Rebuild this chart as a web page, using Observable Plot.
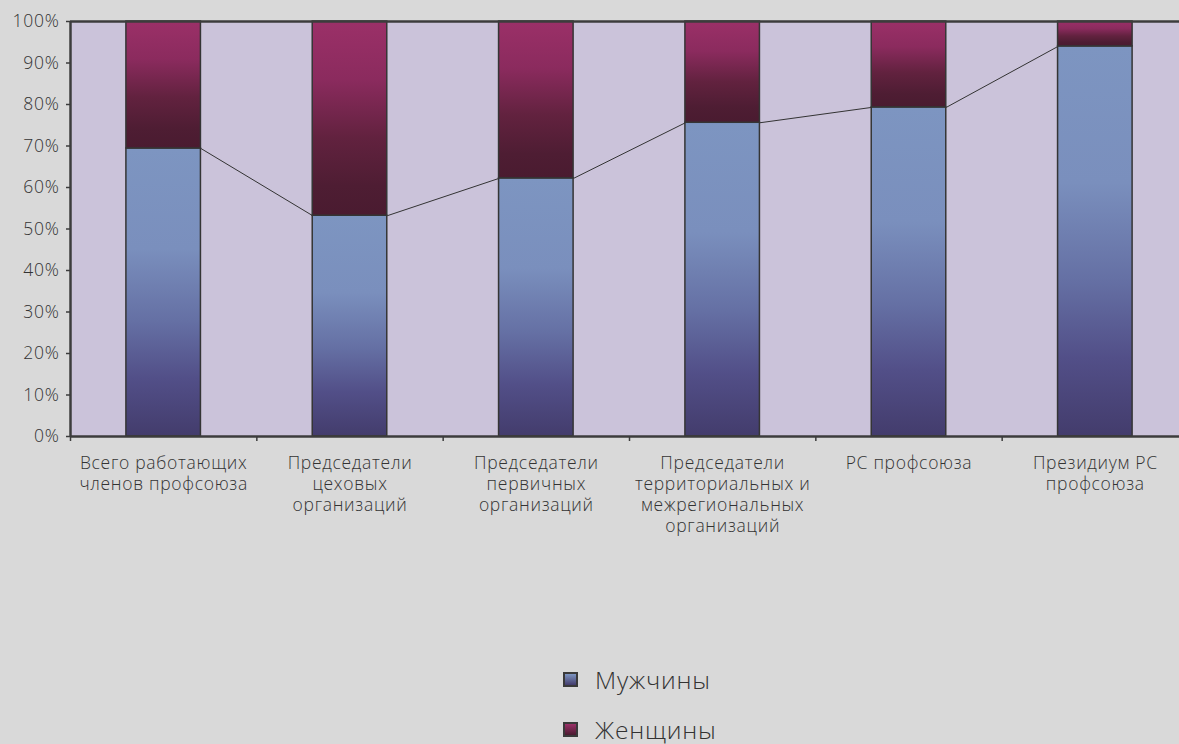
<!DOCTYPE html>
<html>
<head>
<meta charset="utf-8">
<script src="https://cdn.jsdelivr.net/npm/d3@7"></script>
<script src="https://cdn.jsdelivr.net/npm/@observablehq/plot@0.6"></script>
<style>
  html, body { margin: 0; padding: 0; background: #d9d9d9; overflow: hidden; }
  body { width: 1179px; height: 744px; font-family: "Open Sans", sans-serif; }
  #chart svg { max-width: none !important; display: block; }
  #chart svg text { letter-spacing: 0.7px; }
  #legend { margin-top: 94px; margin-left: 563px; color: #333; font-size: 24.5px; font-weight: 300; letter-spacing: 0.8px; }
  .item { height: 50px; display: flex; align-items: center; }
  .sw { width: 11px; height: 11px; border: 2px solid #3a3a3a; margin-right: 17px; }
</style>
</head>
<body>
<div id="chart"></div>
<div id="legend"></div>
<script>
const categories = [
  "Всего работающих\nчленов профсоюза",
  "Председатели\nцеховых\nорганизаций",
  "Председатели\nпервичных\nорганизаций",
  "Председатели\nтерриториальных и\nмежрегиональных\nорганизаций",
  "РС профсоюза",
  "Президиум РС\nпрофсоюза"
];
const men = [69.4, 53.2, 62.2, 75.6, 79.3, 94.0];
const women = [30.6, 46.8, 37.8, 24.4, 20.7, 6.0];
const yTicks = [0, 10, 20, 30, 40, 50, 60, 70, 80, 90, 100];
const seriesNames = ["Мужчины", "Женщины"];

const half = 0.2; // half bar width in category units
const idx = categories.map((_, i) => i);
const rows = idx.map(i => ({i, men: men[i], women: women[i]}));
const links = idx.slice(0, -1).map(i => ({a: i, b: i + 1, ya: men[i], yb: men[i + 1]}));
const boundaries = idx.map(i => i - 0.5);

const axisColor = "#3c3c3c";

const chart = Plot.plot({
  width: 1188,
  height: 560,
  marginLeft: 70,
  marginRight: 0,
  marginTop: 21,
  marginBottom: 124,
  style: {background: "transparent", fontFamily: "Open Sans", fontSize: "17px", fontWeight: 300, color: "#333"},
  x: {type: "linear", domain: [-0.5, categories.length - 0.5]},
  y: {domain: [0, 100]},
  marks: [
    Plot.frame({fill: "#cbc3da", stroke: null}),
    Plot.rectY(rows, {x1: d => d.i - half, x2: d => d.i + half, y1: 0, y2: "men", fill: "url(#gradMen)", stroke: "#353535", strokeWidth: 1.5}),
    Plot.rectY(rows, {x1: d => d.i - half, x2: d => d.i + half, y1: "men", y2: d => d.men + d.women, fill: "url(#gradWomen)", stroke: "#353535", strokeWidth: 1.5}),
    Plot.link(links, {x1: d => d.a + half, x2: d => d.b - half, y1: "ya", y2: "yb", stroke: "#333", strokeWidth: 1}),
    Plot.ruleY([0], {stroke: axisColor, strokeWidth: 2.5}),
    Plot.ruleY([100], {stroke: axisColor, strokeWidth: 2.5}),
    Plot.ruleX([-0.5], {stroke: axisColor, strokeWidth: 2.5}),
    Plot.axisY({ticks: yTicks, tickFormat: d => d + "%", tickSize: 4, tickPadding: 7, fontSize: 17.5, stroke: axisColor, strokeWidth: 1.5}),
    Plot.axisX({ticks: boundaries, tickFormat: () => "", tickSize: 5, stroke: axisColor, strokeWidth: 1.5}),
    Plot.text(categories, {x: (d, i) => i, y: 0, dy: 18, lineAnchor: "top", lineHeight: 1.2, fontSize: 17.5, fill: "#333"})
  ]
});

const svg = d3.select(chart);
const defs = svg.insert("defs", ":first-child");
function grad(id, stops) {
  const g = defs.append("linearGradient").attr("id", id).attr("x1", 0).attr("y1", 0).attr("x2", 0).attr("y2", 1);
  stops.forEach(([o, c]) => g.append("stop").attr("offset", o).attr("stop-color", c));
}
grad("gradMen", [[0, "#7d95c1"], [0.35, "#7a8fbd"], [0.6, "#6570a4"], [0.8, "#524f88"], [1, "#433c6c"]]);
grad("gradWomen", [[0, "#9b3068"], [0.3, "#8b2b5e"], [0.6, "#62223f"], [0.85, "#4e1d33"], [1, "#4a1b30"]]);
document.getElementById("chart").appendChild(chart);

const legend = d3.select("#legend");
const swatchFills = ["linear-gradient(#7d95c1, #433c6c)", "linear-gradient(#9b3068, #4a1b30)"];
seriesNames.forEach((name, k) => {
  const it = legend.append("div").attr("class", "item");
  it.append("div").attr("class", "sw").style("background", swatchFills[k]);
  it.append("span").text(name);
});
</script>
</body>
</html>
